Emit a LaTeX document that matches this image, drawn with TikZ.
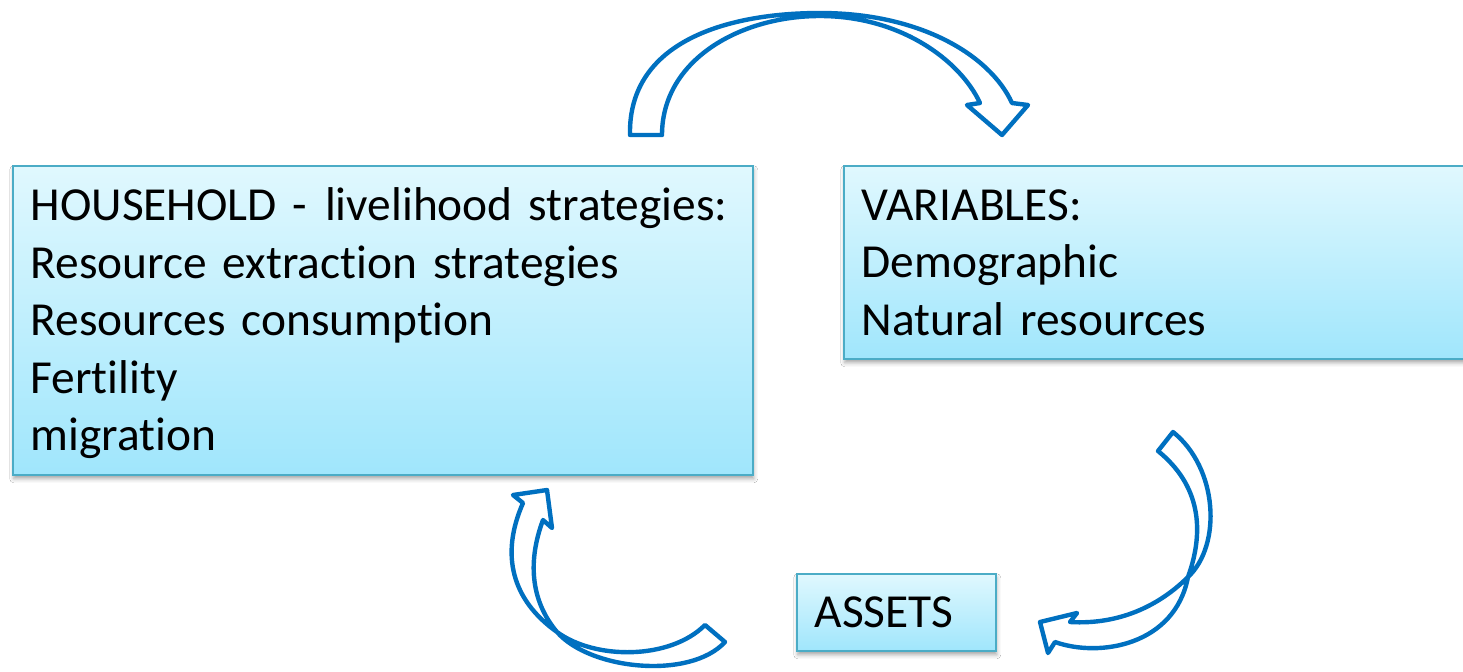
\documentclass[tikz,border=0pt]{standalone}
\usepackage{fontspec}
\setmainfont{Carlito}[Ligatures={NoCommon}]
\usetikzlibrary{shadows.blur}
\definecolor{arrowblue}{HTML}{0070C0}
\definecolor{boxedge}{HTML}{4BACC6}
\definecolor{boxtop}{HTML}{E0F8FE}
\definecolor{boxbot}{HTML}{A0E6FC}
\tikzstyle{bx} = [rectangle, draw=boxedge, line width=0.75pt, top color=boxtop,
    bottom color=boxbot, anchor=north west, inner xsep=9pt, inner ysep=0pt,
    align=left, font=\fontsize{23.7}{28.75}\selectfont,
    blur shadow={shadow xshift=0.5pt, shadow yshift=-2pt, shadow blur radius=2pt, shadow opacity=35}]
\tikzstyle{blockarrow} = [draw=arrowblue, line width=2.2pt, fill=white, line join=round]
\newcommand{\lstr}{\rule[-6.65pt]{0pt}{28.75pt}}

\begin{document}
\begin{tikzpicture}[x=0.5pt,y=-0.5pt]
  \fill[white] (0,0) rectangle (1463,671);
  \useasboundingbox (0,0) rectangle (1463,671);

  % boxes
  \node[bx,text width=352pt,minimum height=154.5pt] (house) at (12,165)
    {\lstr\mbox{HOUSEHOLD -\ \hspace{1pt}livelihood strategies:}\\
     \lstr Resource extraction strategies\\
     \lstr Resources consumption\\
     \lstr Fertility\\
     \lstr migration};
  \node[bx,text width=302pt,minimum height=96.5pt] (vars) at (843,165)
    {\lstr VARIABLES:\\
     \lstr Demographic\\
     \lstr Natural resources};
  \node[bx,text width=81.5pt,minimum height=38.5pt] (assets) at (796,573)
    {\lstr ASSETS};

  % curved block arrows
  \draw[blockarrow] (630,135) .. controls (628,40) and (730,13) .. (820,13)
    .. controls (920,13) and (990,55) .. (1012,103)
    -- (1028,105) -- (1002,135) -- (967,105) -- (980,103)
    .. controls (960,60) and (900,16) .. (820,16)
    .. controls (740,16) and (662,60) .. (662,135) -- cycle;
  \draw[blockarrow] (1173,432) .. controls (1218,468) and (1222,545) .. (1188,577)
    .. controls (1160,605) and (1120,625) .. (1070,622)
    -- (1077,613) -- (1040,622) -- (1048,653) -- (1055,642)
    .. controls (1100,658) and (1175,645) .. (1188,577)
    .. controls (1205,530) and (1200,485) .. (1158,451) -- cycle;
  \draw[blockarrow] (705,625) .. controls (670,660) and (595,660) .. (557,632)
    .. controls (512,600) and (500,555) .. (523,503)
    -- (513,495) -- (547,490) -- (552,528) -- (543,520)
    .. controls (528,560) and (530,600) .. (557,632)
    .. controls (590,670) and (690,680) .. (725,642) -- cycle;
\end{tikzpicture}
\end{document}
